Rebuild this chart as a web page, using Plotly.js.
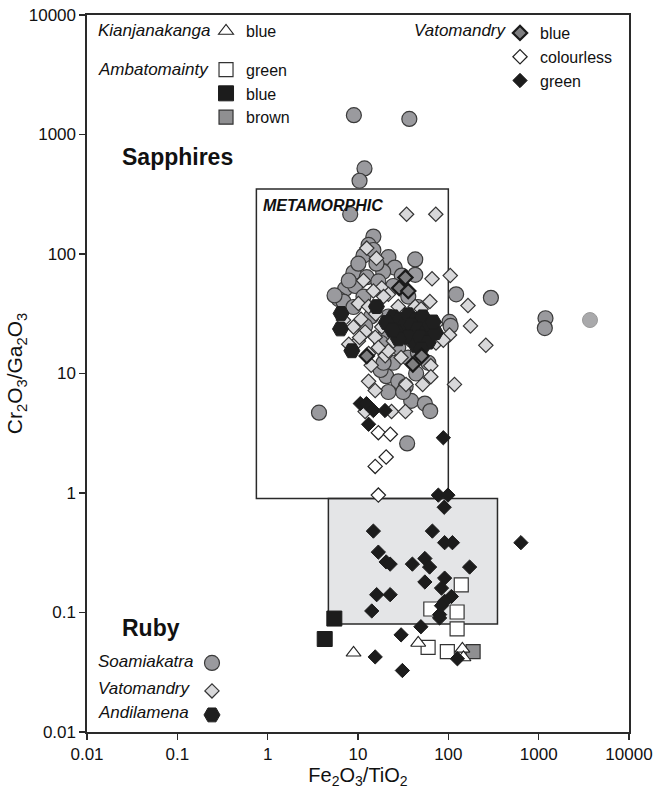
<!DOCTYPE html>
<html>
<head>
<meta charset="utf-8">
<script src="https://cdn.plot.ly/plotly-3.0.1.min.js"></script>
<style>html,body{margin:0;padding:0;background:#fff;}#chart{width:654px;height:794px;}</style>
</head>
<body>
<div id="chart"></div>
<script>
// ---- data ----
const soamiakatraX = [9.0,37,11.8,10.4,8.2,14.8,13.1,11.5,21.7,43,25.5,8.9,12.5,19,30.5,43,7.2,9.3,6.1,122,296,103,106,1190,1170,20.6,27.9,38.8,55,63,3.7,33.7,44,17.8,35,6.9,16.8,24.6,36,46,50,21.7,27.9,36,24.6,19.2,46,60,21.7,31.6,19.2,14.8,10.1,16,7.9,11.5,8.9,5.5,14,30,40,18,12];
const soamiakatraY = [1450,1350,520,410,215,140,119,97,94,90,77,70,64,71,66,67,51,54,42,46,43,27,25,29,24,9.5,8.6,5.9,5.6,4.85,4.7,7.8,10,10.7,2.6,40,59,54,44,36,30,30,16.5,13.6,12.3,12.3,15,12.3,7,7,20,108,83,83,60,44,36,45,30,23,19,18,25];
const soamiakatraPaleX = [3700];
const soamiakatraPaleY = [28];

const vatomandryLitX = [34.5,72.6,12.5,16,66,105,18.3,21.7,62.5,165,10.1,13.1,15.7,27.9,43,50,176,73,260,117,15.5,13.1,64,64,52,34,23.5,33.5,12,103,73,88,14,20,10.1,12,15.5,18.3,7.9,10.8,24.6,34,41,21.7,30,16.8,13.1,8.9,10.4,6.9,26.5,19.2,14.8,11.5,52];
const vatomandryLitY = [215,215,112,92,62,66,52,46,40,37,38.5,36.3,31.5,36.3,36.3,34.6,25,26,17.2,8.1,7.2,8.6,11.6,9.4,8.1,8.1,4.8,4.8,4.8,21,18,19,11.7,14.1,18.7,22.3,20.1,24.5,17.6,28.5,18.7,24.5,18.7,15.4,13.6,16.5,14.7,24.5,20,28,27,44,49,60,24.5];

const andilamenaX = [6.5,6.4,8.55,16,24.6,29,36,44,52,32,39,46,56.5,26.5,63,36,44,28,48.7,60,20.6,24,72,68,50];
const andilamenaY = [31.8,23.6,15.5,36.3,29.8,28.3,31,28.3,29.8,24.5,25.5,23.5,22.3,22.3,25.5,20.1,17.2,19.5,20.1,18.3,26.7,23,22,27,16];

const ambaGreenX = [139,125,125,64,59.7,97.5];
const ambaGreenY = [0.17,0.101,0.073,0.107,0.051,0.047];
const ambaBlueX = [5.47,4.28];
const ambaBlueY = [0.089,0.060];
const ambaBrownX = [188];
const ambaBrownY = [0.047];

const kianBlueX = [8.93,46.4,143,147];
const kianBlueY = [0.046,0.0556,0.0496,0.042];

const vatoColourlessX = [16.8,22.8,20.5,15.5,16.8];
const vatoColourlessY = [3.2,3.1,2.0,1.67,0.96];

const vatoGreenX = [10.6,12.4,14.8,19.9,13.1,88,77.5,99,90,14.8,66.6,91,111,636,16.8,20.5,22.7,40,55,62,172,55,91,84,108,91,80,16.1,22.7,14.2,49.7,30,15.5,31,126,84,80];
const vatoGreenY = [5.6,5.6,4.9,4.9,3.76,2.9,0.96,0.96,0.76,0.48,0.48,0.384,0.384,0.384,0.32,0.265,0.254,0.254,0.283,0.24,0.24,0.18,0.194,0.16,0.136,0.124,0.096,0.141,0.141,0.103,0.076,0.065,0.0425,0.0327,0.041,0.114,0.09];

const vatoBlueX = [33.5,28.6,36,12.5,50.6,40.5];
const vatoBlueY = [63.5,52,49,14,14,11.9];

// discrimination fields
const metamorphicFieldX = [0.75, 100];
const metamorphicFieldY = [0.9, 350];
const rubyFieldX = [4.7, 350];
const rubyFieldY = [0.08, 0.9];

const tickVals = [0.01,0.1,1,10,100,1000,10000];
const tickText = ['0.01','0.1','1','10','100','1000','10000'];

// ---- styling ----
const FONT = 'Liberation Sans, Arial, Helvetica, sans-serif';
const DARK = '#2a2a2a';

function pts(x, y, name, legend, marker, rank, show) {
  return {type:'scatter', mode:'markers', x:x, y:y, name:name, legend:legend,
    showlegend: show !== false, legendrank: rank || 1000, marker:marker,
    hoverinfo:'x+y+name', cliponaxis:false};
}

const data = [
  pts(soamiakatraX, soamiakatraY, 'Soamiakatra', 'legend', {symbol:'circle', size:15, color:'#9a9a9e', line:{color:'#3a3a3a', width:1.2}}, 1, false),
  pts(soamiakatraPaleX, soamiakatraPaleY, 'Soamiakatra', 'legend', {symbol:'circle', size:15, color:'#a9a9ab', line:{color:'#9a9a9a', width:1}}, 1, false),
  pts(vatomandryLitX, vatomandryLitY, 'Vatomandry', 'legend', {symbol:'diamond', size:11, color:'#d8d8da', line:{color:'#333', width:1.2}}, 1, false),
  pts(andilamenaX, andilamenaY, 'Andilamena', 'legend', {symbol:'hexagon2', size:16, color:'#1f1f1f', line:{color:'#1f1f1f', width:1}}, 1, false),
  pts(ambaGreenX, ambaGreenY, 'green', 'legend2', {symbol:'square', size:14, color:'#ffffff', line:{color:'#333', width:1.2}}, 1),
  pts(ambaBlueX, ambaBlueY, 'blue', 'legend2', {symbol:'square', size:15, color:'#1c1c1c', line:{color:'#1c1c1c', width:1}}, 2),
  pts(ambaBrownX, ambaBrownY, 'brown', 'legend2', {symbol:'square', size:14, color:'#8f8f91', line:{color:'#333', width:1.2}}, 3),
  pts(kianBlueX, kianBlueY, 'blue', 'legend', {symbol:'triangle-up', size:13, color:'#ffffff', line:{color:'#222', width:1.1}}, 1),
  pts(vatoColourlessX, vatoColourlessY, 'colourless', 'legend3', {symbol:'diamond', size:11, color:'#ffffff', line:{color:'#222', width:1.2}}, 2),
  pts(vatoGreenX, vatoGreenY, 'green', 'legend3', {symbol:'diamond', size:11, color:'#1c1c1c', line:{color:'#1c1c1c', width:1}}, 3),
  pts(vatoBlueX, vatoBlueY, 'blue', 'legend3', {symbol:'diamond', size:11, color:'#7e7e80', line:{color:'#1a1a1a', width:2.2}}, 1),
  // legend keys for the lower-left key (no data of their own)
  pts([null], [null], '', 'legend4', {symbol:'circle', size:15, color:'#9a9a9e', line:{color:'#3a3a3a', width:1.2}}, 1),
  pts([null], [null], '', 'legend5', {symbol:'diamond', size:11, color:'#d8d8da', line:{color:'#333', width:1.2}}, 1),
  pts([null], [null], '', 'legend6', {symbol:'hexagon2', size:16, color:'#1f1f1f', line:{color:'#1f1f1f', width:1}}, 1)
];

function legendAt(x, y) {
  return {x:x, y:y, xanchor:'left', yanchor:'top', bgcolor:'rgba(0,0,0,0)', borderwidth:0,
    font:{family:FONT, size:16, color:'#111'}, tracegroupgap:0, itemclick:false, itemdoubleclick:false};
}

function label(text, x, y, size, extra) {
  return Object.assign({xref:'paper', yref:'paper', x:x, y:y, xanchor:'left', yanchor:'middle',
    text:text, showarrow:false, font:{family:FONT, size:size, color:'#111'}}, extra || {});
}
const italic = (t, x, y) => label(t, x, y, 17, {font:{family:FONT, size:17, color:'#111', style:'italic'}});

const axisCommon = {
  type:'log', range:[-2,4], tickvals:tickVals, ticktext:tickText,
  showgrid:false, zeroline:false, showline:true, mirror:true, linecolor:DARK, linewidth:1.6,
  ticks:'outside', ticklen:6, tickwidth:1.4, tickcolor:DARK,
  tickfont:{family:FONT, size:17, color:'#111'}
};

const layout = {
  width:654, height:794,
  margin:{l:87, r:25, t:15, b:62},
  paper_bgcolor:'#fff', plot_bgcolor:'#fff',
  showlegend:true,
  xaxis:Object.assign({}, axisCommon, {
    title:{text:'Fe<sub>2</sub>O<sub>3</sub>/TiO<sub>2</sub>', font:{family:FONT, size:20, color:'#111'}, standoff:4}}),
  yaxis:Object.assign({}, axisCommon, {title:{text:'Cr<sub>2</sub>O<sub>3</sub>/Ga<sub>2</sub>O<sub>3</sub>', font:{family:FONT, size:21, color:'#111'}, standoff:0}}),
  legend: legendAt(0.2196, 1.0013),
  legend2: legendAt(0.2196, 0.9475),
  legend3: legendAt(0.762, 0.9986),
  legend4: legendAt(0.1937, 0.1199),
  legend5: legendAt(0.1937, 0.0809),
  legend6: legendAt(0.1937, 0.0474),
  shapes:[
    {type:'rect', xref:'x', yref:'y', layer:'below', x0:rubyFieldX[0], x1:rubyFieldX[1], y0:rubyFieldY[0], y1:rubyFieldY[1],
      fillcolor:'#e4e5e7', line:{color:DARK, width:1.5}},
    {type:'rect', xref:'x', yref:'y', layer:'below', x0:metamorphicFieldX[0], x1:metamorphicFieldX[1], y0:metamorphicFieldY[0], y1:metamorphicFieldY[1],
      fillcolor:'rgba(0,0,0,0)', line:{color:DARK, width:1.5}}
  ],
  annotations:[
    italic('Kianjanakanga', 0.016, 0.9777),
    italic('Ambatomainty', 0.016, 0.9233),
    italic('Vatomandry', 0.600, 0.9777),
    italic('Soamiakatra', 0.016, 0.099),
    italic('Vatomandry', 0.016, 0.060),
    italic('Andilamena', 0.016, 0.0265),
    label('<b>Sapphires</b>', 0.060, 0.802, 23),
    label('<b>Ruby</b>', 0.060, 0.145, 23),
    label('<b><i>METAMORPHIC</i></b>', 0.321, 0.735, 16)
  ]
};

Plotly.newPlot('chart', data, layout, {displayModeBar:false, staticPlot:true});
</script>
</body>
</html>
